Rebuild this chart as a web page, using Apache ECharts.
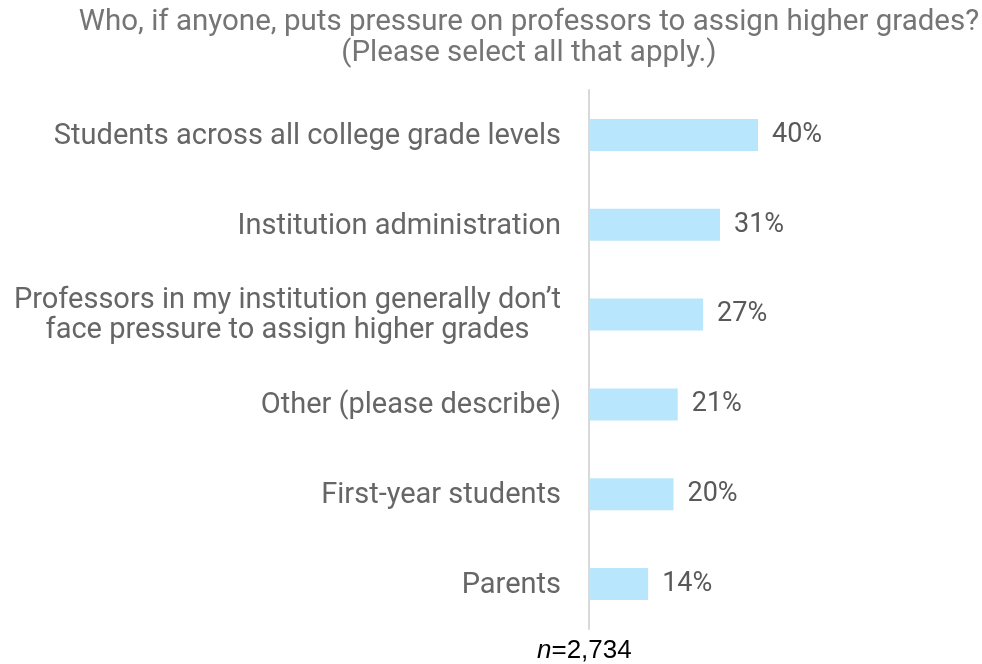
<!DOCTYPE html>
<html><head><meta charset="utf-8">
<script src="https://cdn.jsdelivr.net/npm/echarts@6/dist/echarts.min.js"></script>
<style>html,body{margin:0;padding:0;background:#fff}#c{width:982px;height:664px}</style>
</head><body><div id="c"></div>
<script>
const titleLines = ["Who, if anyone, puts pressure on professors to assign higher grades?", "(Please select all that apply.)"];
const categories = ["Students across all college grade levels", "Institution administration", "Professors in my institution generally don\u2019t\nface pressure to assign higher grades", "Other (please describe)", "First-year students", "Parents"];
const values = [40, 31, 27, 21, 20, 14];
const footnote = "2,734";

const chart = echarts.init(document.getElementById('c'));
chart.setOption({
  animation: false,
  backgroundColor: '#fff',
  title: {
    text: titleLines.join('\n'),
    left: 524, top: 2, textAlign: 'center',
    textStyle: {fontFamily: 'Roboto', fontSize: 29.5, fontWeight: 'normal', color: '#757575', lineHeight: 31}
  },
  graphic: [{
    type: 'text', left: 537, top: 638,
    style: {
      text: '{i|n}{r|=' + footnote + '}',
      rich: {
        i: {fontFamily: 'Liberation Sans', fontStyle: 'italic', fontSize: 26, fill: '#000'},
        r: {fontFamily: 'Liberation Sans', fontSize: 26, fill: '#000'}
      }
    }
  }],
  grid: {left: 589, top: 90, width: 211.25, height: 539},
  xAxis: {type: 'value', min: 0, max: 50, show: false},
  yAxis: {
    type: 'category', data: categories, inverse: true,
    axisLine: {show: true, lineStyle: {color: '#d9d9d9', width: 2}},
    axisTick: {show: false},
    axisLabel: {
      margin: 28, align: 'right',
      fontFamily: 'Roboto', fontSize: 29, color: '#666666', lineHeight: 30,
      formatter: v => v.split('\n').map(s => '{c|' + s + '}').join('\n'),
      rich: {c: {align: 'center', fontFamily: 'Roboto', fontSize: 29, color: '#666666', lineHeight: 30, padding: [3, 0, 0, 0]}}
    }
  },
  series: [{
    type: 'bar', data: values, barWidth: 32,
    itemStyle: {color: '#b8e6fc'},
    label: {show: true, position: 'right', distance: 14, formatter: '{c}%',
      fontFamily: 'Roboto', fontSize: 27, color: '#595959'}
  }]
});
</script></body></html>
